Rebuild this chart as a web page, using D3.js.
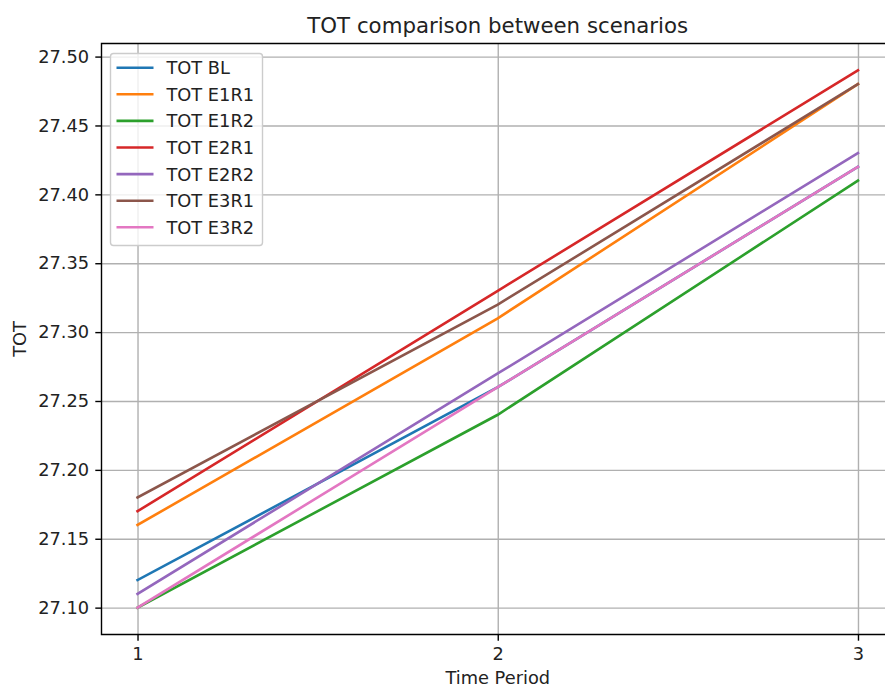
<!DOCTYPE html>
<html>
<head>
<meta charset="utf-8">
<script src="https://cdn.jsdelivr.net/npm/d3@7"></script>
<style>
  body { margin: 0; background: #fff; }
  svg { font-family: "DejaVu Sans", sans-serif; }
</style>
</head>
<body>
<script>
// data
const periods = [1, 2, 3];
const seriesNames = ["TOT BL", "TOT E1R1", "TOT E1R2", "TOT E2R1", "TOT E2R2", "TOT E3R1", "TOT E3R2"];
const totBL = [27.12, 27.26, 27.42];
const totE1R1 = [27.16, 27.31, 27.48];
const totE1R2 = [27.10, 27.24, 27.41];
const totE2R1 = [27.17, 27.33, 27.49];
const totE2R2 = [27.11, 27.27, 27.43];
const totE3R1 = [27.18, 27.32, 27.48];
const totE3R2 = [27.10, 27.26, 27.42];
const yTicks = [27.10, 27.15, 27.20, 27.25, 27.30, 27.35, 27.40, 27.45, 27.50];
const colors = ["#1f77b4", "#ff7f0e", "#2ca02c", "#d62728", "#9467bd", "#8c564b", "#e377c2"];

const series = [totBL, totE1R1, totE1R2, totE2R1, totE2R2, totE3R1, totE3R2]
  .map((vals, i) => ({ name: seriesNames[i], color: colors[i], values: vals }));

const w = 885;
const h = 686;
// axes box (right side runs past the window, like the original)
const p = { t: 43.5, r: 894, b: 634.5, l: 101.5 };
const fs = 17.8; // tick / label / legend font size
const tick = 6.2;

// matplotlib style 5% margins
const xMin = d3.min(periods), xMax = d3.max(periods);
const xPad = (xMax - xMin) * 0.05;
const allVals = series.flatMap((s) => s.values);
const yMin = d3.min(allVals), yMax = d3.max(allVals);
const yPad = (yMax - yMin) * 0.05;

const x = d3.scaleLinear().domain([xMin - xPad, xMax + xPad]).range([p.l, p.r]);
const y = d3.scaleLinear().domain([yMin - yPad, yMax + yPad]).range([p.b, p.t]);

const svg = d3.select("body").append("svg").attr("width", w).attr("height", h);

// grid
svg.append("g")
  .attr("transform", `translate(0, ${p.b})`)
  .call(d3.axisBottom(x).tickValues(periods).tickSize(-(p.b - p.t)).tickFormat(""))
  .call((g) => g.select(".domain").remove())
  .selectAll("line").attr("stroke", "#b0b0b0").attr("stroke-width", 1.4);

svg.append("g")
  .attr("transform", `translate(${p.l}, 0)`)
  .call(d3.axisLeft(y).tickValues(yTicks).tickSize(-(p.r - p.l)).tickFormat(""))
  .call((g) => g.select(".domain").remove())
  .selectAll("line").attr("stroke", "#b0b0b0").attr("stroke-width", 1.4);

// lines
const line = d3.line().x((d, i) => x(periods[i])).y((d) => y(d));
svg.append("g")
  .selectAll("path")
  .data(series)
  .enter()
  .append("path")
  .attr("d", (d) => line(d.values))
  .attr("fill", "none")
  .attr("stroke", (d) => d.color)
  .attr("stroke-width", 2.6)
  .attr("stroke-linecap", "square");

// axes
const xAxis = svg.append("g")
  .attr("transform", `translate(0, ${p.b})`)
  .call(d3.axisBottom(x).tickValues(periods).tickSize(tick).tickPadding(tick).tickFormat(d3.format("d")));
const yAxis = svg.append("g")
  .attr("transform", `translate(${p.l}, 0)`)
  .call(d3.axisLeft(y).tickValues(yTicks).tickSize(tick).tickPadding(tick).tickFormat(d3.format(".2f")));

[xAxis, yAxis].forEach((g) => {
  g.select(".domain").remove();
  g.selectAll("line").attr("stroke", "#000").attr("stroke-width", 1.4);
  g.selectAll("text").attr("font-size", fs + "px").attr("fill", "#222")
    .attr("font-family", "DejaVu Sans, sans-serif");
});

// spines (left, top, bottom)
svg.append("path")
  .attr("d", `M${p.r},${p.t}H${p.l}V${p.b}H${p.r}`)
  .attr("fill", "none")
  .attr("stroke", "#000")
  .attr("stroke-width", 1.4);

// titles
svg.append("text")
  .attr("x", (p.l + p.r) / 2)
  .attr("y", 33)
  .attr("text-anchor", "middle")
  .attr("font-size", "21.3px")
  .attr("fill", "#222")
  .text("TOT comparison between scenarios");

svg.append("text")
  .attr("x", (p.l + p.r) / 2)
  .attr("y", 684)
  .attr("text-anchor", "middle")
  .attr("font-size", fs + "px")
  .attr("fill", "#222")
  .text("Time Period");

svg.append("text")
  .attr("transform", `translate(25.5, ${(p.t + p.b) / 2}) rotate(-90)`)
  .attr("text-anchor", "middle")
  .attr("font-size", fs + "px")
  .attr("fill", "#222")
  .text("TOT");

// legend
const legend = svg.append("g").attr("transform", "translate(110.5, 53.5)");
legend.append("rect")
  .attr("width", 152)
  .attr("height", 192)
  .attr("rx", 3)
  .attr("fill", "#fff")
  .attr("fill-opacity", 0.8)
  .attr("stroke", "#cccccc")
  .attr("stroke-width", 1.4);

const rows = legend.selectAll("g.row")
  .data(series)
  .enter()
  .append("g")
  .attr("class", "row")
  .attr("transform", (d, i) => `translate(0, ${14.2 + i * 26.6})`);
rows.append("line")
  .attr("x1", 6).attr("x2", 43)
  .attr("stroke", (d) => d.color)
  .attr("stroke-width", 2.6);
rows.append("text")
  .attr("x", 56)
  .attr("y", 6.4)
  .attr("font-size", fs + "px")
  .attr("fill", "#222")
  .text((d) => d.name);
</script>
</body>
</html>
